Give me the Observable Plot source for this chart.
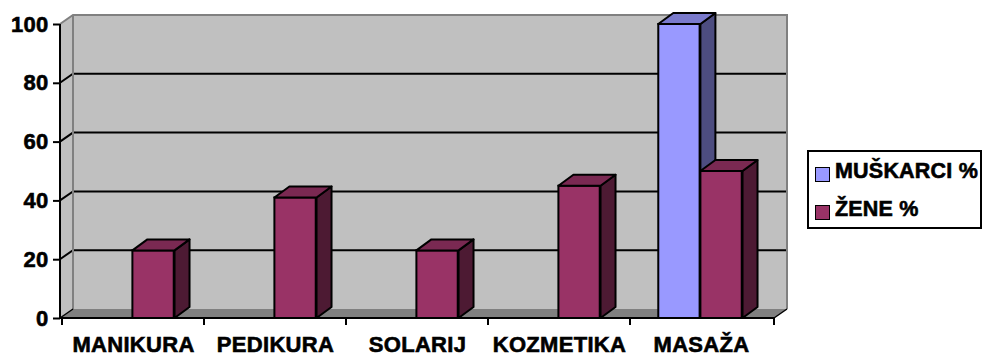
<!DOCTYPE html>
<html>
<head>
<meta charset="utf-8">
<script src="https://cdn.jsdelivr.net/npm/d3@7"></script>
<script src="https://cdn.jsdelivr.net/npm/@observablehq/plot@0.6"></script>
<style>
  body { margin: 0; background: #fff; }
  #chart { position: relative; width: 983px; height: 356px; font-family: "Liberation Sans", Arial, sans-serif; font-weight: bold; }
  #chart svg { position: absolute; left: 0; top: 0; }
  #chart svg text { stroke: #000; stroke-width: 0.6px; letter-spacing: 0.3px; }
  #chart [aria-label^="y-axis"] line,
  #chart [aria-label^="y-axis tick"] path { stroke-width: 2; }
  .legend { position: absolute; left: 807px; top: 150px; width: 171px; height: 75px; border: 2px solid #000; background: #fff; }
  .legend .item { position: absolute; left: 6px; height: 22px; }
  .legend .swatch { position: absolute; left: 0; width: 13px; height: 13px; border: 1px solid #000; }
  .legend .label { position: absolute; left: 20px; top: 0; font-size: 21.5px; line-height: 22px; white-space: nowrap; color: #000; -webkit-text-stroke: 0.6px #000; letter-spacing: 0.2px; }
</style>
</head>
<body>
<div id="chart"></div>
<script>
// Usluge po spolu (%)
const categories = ["MANIKURA", "PEDIKURA", "SOLARIJ", "KOZMETIKA", "MASAŽA"];
const seriesNames = ["MUŠKARCI %", "ŽENE %"];
const muskarci = [0, 0, 0, 0, 100];
const zene = [23, 41, 23, 45, 50];
const yTicks = [0, 20, 40, 60, 80, 100];

// Face colours per series: front, top, side
const palette = [
  {front: "#9999ff", top: "#7a7acc", side: "#4d4d80"},
  {front: "#993366", top: "#7a2952", side: "#4d1a33"}
];

const width = 983, height = 356;
const marginLeft = 60, marginRight = 209, marginTop = 24, marginBottom = 38;
const wall = {dx: 13, dy: -9};   // depth of the walls and floor
const depth = {dx: 15, dy: -11}; // depth of each column
const barFrac = 0.295;           // column width as a share of the category band

const band = (width - marginLeft - marginRight) / categories.length;
const barW = band * barFrac;
const insets = [
  {insetLeft: band / 2 - barW - 1, insetRight: band / 2 + 1},
  {insetLeft: band / 2 - 1, insetRight: band / 2 - barW + 1}
];

const series = [muskarci, zene].map((vals, s) =>
  categories.map((c, i) => ({category: c, series: seriesNames[s], value: vals[i]}))
);

// Back wall, side wall, floor and grid lines
function walls(index, {x, y}) {
  const [x0, x1] = x.range();
  const yb = y(0), yt = y(yTicks[yTicks.length - 1]);
  const {dx, dy} = wall;
  const g = d3.create("svg:g");
  g.append("path")
    .attr("d", `M${x0},${yb}L${x0},${yt}L${x0 + dx},${yt + dy}L${x0 + dx},${yb + dy}Z`)
    .attr("fill", "#c0c0c0");
  g.append("rect")
    .attr("x", x0 + dx).attr("y", yt + dy)
    .attr("width", x1 - x0).attr("height", yb - yt)
    .attr("fill", "#c0c0c0");
  g.append("path")
    .attr("d", `M${x0},${yb}L${x0 + dx},${yb + dy}L${x1 + dx},${yb + dy}L${x1},${yb}Z`)
    .attr("fill", "#808080");
  for (const t of yTicks.slice(1, -1)) {
    const v = y(t);
    g.append("path")
      .attr("d", `M${x0},${v}L${x0 + dx},${v + dy}H${x1 + dx}`)
      .attr("fill", "none").attr("stroke", "#000").attr("stroke-width", 2);
  }
  g.append("path")
    .attr("d", `M${x0},${yt}L${x0 + dx},${yt + dy}H${x1 + dx}V${yb + dy}M${x0 + dx},${yt + dy}V${yb + dy}`)
    .attr("fill", "none").attr("stroke", "#808080").attr("stroke-width", 2);
  g.append("path")
    .attr("d", `M${x0},${yb}L${x0 + dx},${yb + dy}M${x1},${yb}L${x1 + dx},${yb + dy}`)
    .attr("fill", "none").attr("stroke", "#000").attr("stroke-width", 1.5);
  return g.node();
}

// Front axis lines with ticks on the category boundaries
function frontAxes(index, {x, y}) {
  const [x0, x1] = x.range();
  const yb = y(0), yt = y(yTicks[yTicks.length - 1]);
  const bounds = categories.map(c => x(c)).concat([x1]);
  const d = `M${x0},${yt}V${yb}H${x1}` + bounds.map(b => `M${b},${yb}v7`).join("");
  const g = d3.create("svg:g");
  g.append("path").attr("d", d).attr("fill", "none").attr("stroke", "#000").attr("stroke-width", 2);
  return g.node();
}

// Top and side faces of the columns of one series
function boxFaces(s) {
  return (index, {x, y}) => {
    const g = d3.create("svg:g")
      .attr("stroke", "#000").attr("stroke-width", 2).attr("stroke-linejoin", "round");
    const {dx, dy} = depth;
    for (const d of series[s]) {
      if (!(d.value > 0)) continue;
      const xa = x(d.category) + insets[s].insetLeft;
      const xb = xa + barW;
      const yt = y(d.value), yb = y(0);
      g.append("path")
        .attr("d", `M${xb},${yt}L${xb + dx},${yt + dy}L${xb + dx},${yb + dy}L${xb},${yb}Z`)
        .attr("fill", palette[s].side);
      g.append("path")
        .attr("d", `M${xa},${yt}L${xa + dx},${yt + dy}L${xb + dx},${yt + dy}L${xb},${yt}Z`)
        .attr("fill", palette[s].top);
    }
    return g.node();
  };
}

const frontFaces = s => Plot.barY(series[s].filter(d => d.value > 0), {
  x: "category", y: "value",
  fill: palette[s].front, stroke: "#000", strokeWidth: 2,
  ...insets[s]
});

const plot = Plot.plot({
  width, height, marginLeft, marginRight, marginTop, marginBottom,
  style: {fontFamily: "'Liberation Sans', Arial, sans-serif", fontSize: "22px", fontWeight: "bold", color: "#000", background: "transparent", overflow: "visible"},
  x: {type: "band", domain: categories, paddingInner: 0, paddingOuter: 0, label: null, tickSize: 0, tickPadding: 18},
  y: {domain: [0, 100], ticks: yTicks, label: null, tickSize: 7, tickPadding: 5},
  marks: [
    walls,
    frontAxes,
    frontFaces(0),
    boxFaces(0),
    frontFaces(1),
    boxFaces(1)
  ]
});

const chart = document.getElementById("chart");
chart.appendChild(plot);

// Legend
const legend = d3.select(chart).append("div").attr("class", "legend");
const rowTops = [8, 46];
seriesNames.forEach((name, s) => {
  const item = legend.append("div").attr("class", "item").style("top", rowTops[s] + "px");
  item.append("div").attr("class", "swatch").style("top", "7px").style("background", palette[s].front);
  item.append("div").attr("class", "label").text(name);
});
</script>
</body>
</html>
